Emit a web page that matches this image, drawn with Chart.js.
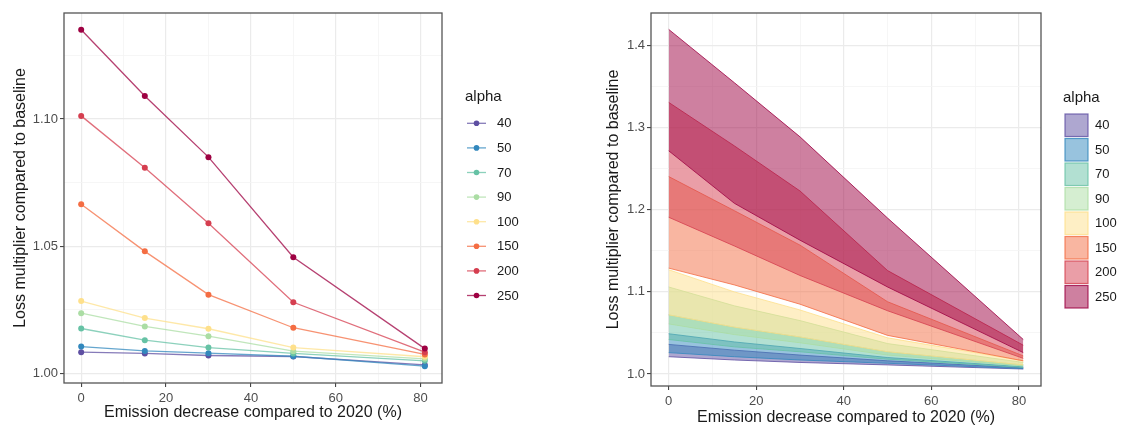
<!DOCTYPE html>
<html>
<head>
<meta charset="utf-8">
<script src="https://cdn.jsdelivr.net/npm/chart.js@4.4.1/dist/chart.umd.min.js"></script>
<style>
  html, body { margin: 0; padding: 0; background: #fff; }
  #wrap { position: relative; width: 1121px; height: 427px; }
  #lossChart { position: absolute; left: 0; top: 0; }
  #rangeChart { position: absolute; left: 560px; top: 0; }
</style>
</head>
<body>
<div id="wrap">
  <canvas id="lossChart" width="560" height="427"></canvas>
  <canvas id="rangeChart" width="561" height="427"></canvas>
</div>
<script>
// emission decrease (%) where each scenario was run
const emissionDecrease = [0, 15, 30, 50, 81];
const alphaLevels = ['40', '50', '70', '90', '100', '150', '200', '250'];
const alphaColors = ['#5E4FA2', '#3288BD', '#66C2A5', '#ABDDA4', '#FEE08B', '#F46D43', '#D53E4F', '#9E0142'];

// left panel: mean loss multiplier per alpha
const loss40  = [1.0084, 1.0079, 1.0071, 1.0067, 1.0034];
const loss50  = [1.0106, 1.0089, 1.0080, 1.0068, 1.0029];
const loss70  = [1.0177, 1.0131, 1.0102, 1.0079, 1.0050];
const loss90  = [1.0237, 1.0185, 1.0147, 1.0088, 1.0058];
const loss100 = [1.0285, 1.0218, 1.0176, 1.0102, 1.0066];
const loss150 = [1.0665, 1.0480, 1.0310, 1.0180, 1.0075];
const loss200 = [1.1012, 1.0808, 1.0590, 1.0280, 1.0084];
const loss250 = [1.1350, 1.1090, 1.0850, 1.0457, 1.0098];

// right panel: lower / upper range per alpha
const low40  = [1.021, 1.017, 1.014, 1.011, 1.0060];
const high40 = [1.036, 1.029, 1.023, 1.016, 1.0074];
const low50  = [1.026, 1.021, 1.017, 1.013, 1.0065];
const high50 = [1.049, 1.039, 1.031, 1.020, 1.0086];
const low70  = [1.042, 1.033, 1.027, 1.018, 1.0080];
const high70 = [1.072, 1.057, 1.045, 1.027, 1.0110];
const low90  = [1.061, 1.048, 1.038, 1.023, 1.0098];
const high90 = [1.106, 1.083, 1.065, 1.037, 1.0140];
const low100  = [1.072, 1.057, 1.045, 1.027, 1.0110];
const high100 = [1.127, 1.100, 1.078, 1.044, 1.0160];
const low150  = [1.129, 1.1085, 1.085, 1.047, 1.0160];
const high150 = [1.2406, 1.199, 1.157, 1.088, 1.0220];
const low200  = [1.191, 1.156, 1.120, 1.077, 1.0190];
const high200 = [1.331, 1.278, 1.223, 1.126, 1.0350];
const low250  = [1.272, 1.208, 1.163, 1.106, 1.0260];
const high250 = [1.420, 1.355, 1.289, 1.190, 1.0420];

// ticks (major get labels, the rest are minor grid lines)
const xGridTicks = [0, 10, 20, 30, 40, 50, 60, 70, 80];
const xMajorTicks = [0, 20, 40, 60, 80];
const lossGridTicks = [1.00, 1.025, 1.05, 1.075, 1.10, 1.125];
const lossMajorTicks = [1.00, 1.05, 1.10];
const rangeGridTicks = [1.0, 1.05, 1.1, 1.15, 1.2, 1.25, 1.3, 1.35, 1.4];
const rangeMajorTicks = [1.0, 1.1, 1.2, 1.3, 1.4];

const lossSeries = [loss40, loss50, loss70, loss90, loss100, loss150, loss200, loss250];
const lowSeries = [low40, low50, low70, low90, low100, low150, low200, low250];
const highSeries = [high40, high50, high70, high90, high100, high150, high200, high250];

Chart.defaults.font.family = '"Liberation Sans", Arial, sans-serif';
Chart.defaults.animation = false;

function rgba(hex, a) {
  const n = parseInt(hex.slice(1), 16);
  return `rgba(${(n >> 16) & 255}, ${(n >> 8) & 255}, ${n & 255}, ${a})`;
}

function isMajor(v, list) {
  return list.some(m => Math.abs(m - v) < 1e-6);
}

function toPoints(ys) {
  return emissionDecrease.map((x, i) => ({ x: x, y: ys[i] }));
}

function gridOpts(majors) {
  return {
    color: c => isMajor(c.tick.value, majors) ? '#EBEBEB' : '#F4F4F4',
    lineWidth: c => isMajor(c.tick.value, majors) ? 1.2 : 0.8,
    tickColor: c => isMajor(c.tick.value, majors) ? '#333333' : 'rgba(0,0,0,0)',
    tickWidth: 1,
    tickLength: 4,
    drawTicks: true
  };
}

function xAxis(height, titlePad) {
  return {
    type: 'linear',
    min: -4.05,
    max: 85.05,
    afterBuildTicks: s => { s.ticks = xGridTicks.map(v => ({ value: v })); },
    afterFit: s => { s.height = height; },
    grid: gridOpts(xMajorTicks),
    border: { display: false },
    ticks: {
      autoSkip: false, maxRotation: 0, padding: 4,
      color: '#4D4D4D', font: { size: 13 },
      callback: v => isMajor(v, xMajorTicks) ? String(v) : ''
    },
    title: {
      display: true, text: 'Emission decrease compared to 2020 (%)',
      color: '#1a1a1a', font: { size: 16 }, padding: { top: 0, bottom: titlePad }
    }
  };
}

function yAxis(min, max, gridTicks, majors, digits, width, titlePad) {
  return {
    type: 'linear',
    min: min,
    max: max,
    afterBuildTicks: s => { s.ticks = gridTicks.map(v => ({ value: v })); },
    afterFit: s => { s.width = width; },
    grid: gridOpts(majors),
    border: { display: false },
    ticks: {
      autoSkip: false, padding: 2,
      color: '#4D4D4D', font: { size: 13 },
      callback: v => isMajor(v, majors) ? v.toFixed(digits) : ''
    },
    title: {
      display: true, text: 'Loss multiplier compared to baseline',
      color: '#1a1a1a', font: { size: 16 }, padding: { top: titlePad, bottom: 0 }
    }
  };
}

// box round the panel, like theme_bw
const panelBorder = {
  id: 'panelBorder',
  afterDraw(chart) {
    const { ctx, chartArea: a } = chart;
    ctx.save();
    ctx.strokeStyle = '#555555';
    ctx.lineWidth = 1.3;
    ctx.strokeRect(a.left, a.top, a.right - a.left, a.bottom - a.top);
    ctx.restore();
  }
};

const lineLegend = {
  id: 'lineLegend',
  afterDraw(chart) {
    const ctx = chart.ctx;
    ctx.save();
    ctx.fillStyle = '#1a1a1a';
    ctx.font = '15px "Liberation Sans", Arial, sans-serif';
    ctx.textBaseline = 'middle';
    ctx.fillText('alpha', 465, 97);
    ctx.font = '13px "Liberation Sans", Arial, sans-serif';
    alphaLevels.forEach((lvl, i) => {
      const y = 123.3 + i * 24.6;
      ctx.strokeStyle = rgba(alphaColors[i], 0.75);
      ctx.lineWidth = 1.3;
      ctx.beginPath();
      ctx.moveTo(467, y);
      ctx.lineTo(486, y);
      ctx.stroke();
      ctx.fillStyle = alphaColors[i];
      ctx.beginPath();
      ctx.arc(476.5, y, 2.8, 0, Math.PI * 2);
      ctx.fill();
      ctx.fillStyle = '#1a1a1a';
      ctx.fillText(lvl, 497, y + 0.5);
    });
    ctx.restore();
  }
};

const fillLegend = {
  id: 'fillLegend',
  afterDraw(chart) {
    const ctx = chart.ctx;
    ctx.save();
    ctx.fillStyle = '#1a1a1a';
    ctx.font = '15px "Liberation Sans", Arial, sans-serif';
    ctx.textBaseline = 'middle';
    ctx.fillText('alpha', 503, 98);
    ctx.font = '13px "Liberation Sans", Arial, sans-serif';
    alphaLevels.forEach((lvl, i) => {
      const y = 113 + i * 24.5;
      ctx.fillStyle = rgba(alphaColors[i], 0.5);
      ctx.fillRect(505, y + 1, 23, 22.5);
      ctx.strokeStyle = rgba(alphaColors[i], 0.8);
      ctx.lineWidth = 1.2;
      ctx.strokeRect(505, y + 1, 23, 22.5);
      ctx.fillStyle = '#1a1a1a';
      ctx.fillText(lvl, 535, y + 12.5);
    });
    ctx.restore();
  }
};

// left panel
new Chart(document.getElementById('lossChart'), {
  type: 'line',
  data: {
    datasets: alphaLevels.map((lvl, i) => ({
      label: lvl,
      data: toPoints(lossSeries[i]),
      borderColor: rgba(alphaColors[i], 0.75),
      borderWidth: 1.3,
      pointRadius: 3,
      pointBorderWidth: 0,
      pointBackgroundColor: alphaColors[i],
      tension: 0,
      fill: false,
      order: alphaLevels.length - i
    }))
  },
  options: {
    responsive: false,
    layout: { padding: { left: 0, right: 118, top: 13, bottom: 0 } },
    scales: {
      x: xAxis(44, 5),
      y: yAxis(0.9963, 1.1416, lossGridTicks, lossMajorTicks, 2, 64, 11)
    },
    plugins: { legend: { display: false }, tooltip: { enabled: false } }
  },
  plugins: [panelBorder, lineLegend]
});

// right panel: one ribbon (upper filled down to lower) per alpha
const rangeSets = [];
alphaLevels.forEach((lvl, i) => {
  rangeSets.push({
    label: lvl,
    data: toPoints(highSeries[i]),
    borderColor: rgba(alphaColors[i], 0.8),
    backgroundColor: rgba(alphaColors[i], 0.5),
    borderWidth: 1,
    pointRadius: 0,
    tension: 0,
    fill: '+1',
    order: alphaLevels.length - i
  });
  rangeSets.push({
    label: lvl + ' low',
    data: toPoints(lowSeries[i]),
    borderColor: rgba(alphaColors[i], 0.8),
    borderWidth: 1,
    pointRadius: 0,
    tension: 0,
    fill: false,
    order: alphaLevels.length - i
  });
});

new Chart(document.getElementById('rangeChart'), {
  type: 'line',
  data: { datasets: rangeSets },
  options: {
    responsive: false,
    layout: { padding: { left: 0, right: 80, top: 13, bottom: 0 } },
    scales: {
      x: xAxis(41, 0),
      y: yAxis(0.9853, 1.4400, rangeGridTicks, rangeMajorTicks, 1, 91, 44)
    },
    plugins: { legend: { display: false }, tooltip: { enabled: false } }
  },
  plugins: [panelBorder, fillLegend]
});
</script>
</body>
</html>
